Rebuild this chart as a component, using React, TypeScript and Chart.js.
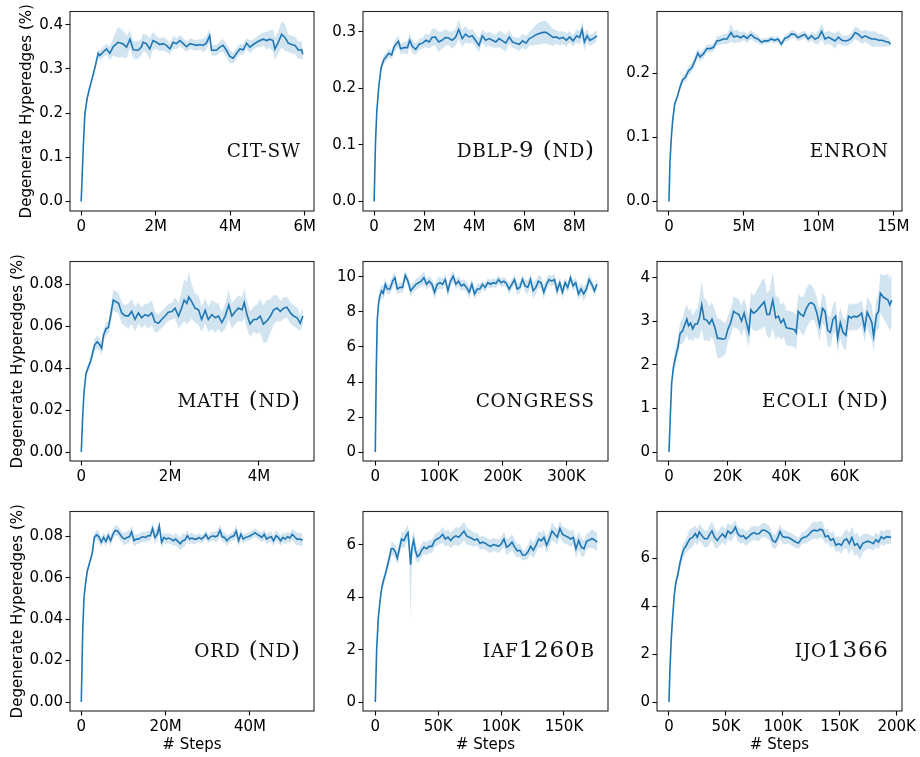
import React, { useEffect, useRef } from 'react';
import { Chart, registerables } from 'chart.js';

Chart.register(...registerables);
Chart.defaults.font.family = "'DejaVu Sans', sans-serif";

// ---------------- data ----------------
// CIT-SW (x in millions of steps)
const CITSW_X = [
  0, 0.054, 0.098, 0.16, 0.233, 0.30, 0.367, 0.456, 0.5, 0.59,
  0.68, 0.77, 0.86, 0.99, 1.13, 1.22, 1.31, 1.40, 1.53, 1.62,
  1.66, 1.75, 1.84, 1.93, 2.02, 2.11, 2.2, 2.29, 2.38, 2.47,
  2.56, 2.65, 2.74, 2.83, 2.92, 3.01, 3.1, 3.19, 3.27, 3.36,
  3.45, 3.5, 3.63, 3.72, 3.81, 3.90, 3.99, 4.08, 4.17, 4.26,
  4.35, 4.44, 4.53, 4.62, 4.71, 4.8, 4.89, 4.98, 5.06, 5.15,
  5.2, 5.29, 5.38, 5.47, 5.56, 5.65, 5.74, 5.83, 5.92, 5.95];
const CITSW_Y = [
  0, 0.118, 0.197, 0.233, 0.259, 0.28, 0.302, 0.335, 0.33, 0.338,
  0.345, 0.335, 0.35, 0.36, 0.356, 0.349, 0.367, 0.343, 0.342, 0.35,
  0.36, 0.357, 0.345, 0.364, 0.36, 0.355, 0.357, 0.353, 0.345, 0.36,
  0.357, 0.364, 0.357, 0.35, 0.357, 0.355, 0.353, 0.355, 0.353, 0.358,
  0.375, 0.342, 0.342, 0.349, 0.353, 0.342, 0.328, 0.324, 0.335, 0.345,
  0.343, 0.358, 0.349, 0.355, 0.36, 0.364, 0.367, 0.364, 0.367, 0.364,
  0.345, 0.36, 0.378, 0.371, 0.358, 0.355, 0.353, 0.342, 0.343, 0.333];
const CITSW_S = [
  0, 0.004, 0.006, 0.006, 0.006, 0.006, 0.006, 0.008, 0.01, 0.012,
  0.012, 0.015, 0.02, 0.035, 0.03, 0.025, 0.02, 0.02, 0.02, 0.018,
  0.02, 0.02, 0.025, 0.02, 0.015, 0.015, 0.015, 0.015, 0.012, 0.015,
  0.012, 0.012, 0.012, 0.012, 0.012, 0.012, 0.012, 0.012, 0.015, 0.015,
  0.015, 0.012, 0.012, 0.012, 0.015, 0.015, 0.015, 0.012, 0.012, 0.012,
  0.012, 0.012, 0.015, 0.012, 0.012, 0.015, 0.015, 0.02, 0.02, 0.025,
  0.025, 0.025, 0.03, 0.03, 0.02, 0.02, 0.02, 0.02, 0.02, 0.015];

// DBLP-9 (ND) (millions)
const DBLP_X = [
  0, 0.054, 0.107, 0.19, 0.28, 0.39, 0.48, 0.59, 0.70, 0.79,
  0.89, 0.97, 1.06, 1.19, 1.33, 1.42, 1.53, 1.66, 1.80, 1.93,
  2.07, 2.2, 2.31, 2.44, 2.58, 2.71, 2.85, 2.98, 3.11, 3.25,
  3.38, 3.52, 3.65, 3.79, 3.92, 4.05, 4.19, 4.32, 4.46, 4.59,
  4.73, 4.86, 4.99, 5.13, 5.26, 5.40, 5.53, 5.66, 5.8, 5.93,
  6.07, 6.2, 6.34, 6.47, 6.6, 6.74, 6.87, 7.0, 7.15, 7.28,
  7.41, 7.55, 7.68, 7.81, 7.95, 8.09, 8.21, 8.31, 8.4, 8.51,
  8.62, 8.75, 8.9];
const DBLP_Y = [
  0, 0.104, 0.16, 0.205, 0.237, 0.251, 0.256, 0.262, 0.259, 0.273,
  0.279, 0.283, 0.27, 0.272, 0.272, 0.285, 0.274, 0.269, 0.278, 0.28,
  0.285, 0.282, 0.29, 0.291, 0.282, 0.285, 0.29, 0.289, 0.285, 0.29,
  0.304, 0.288, 0.296, 0.291, 0.293, 0.285, 0.276, 0.293, 0.285, 0.288,
  0.285, 0.282, 0.288, 0.284, 0.28, 0.291, 0.282, 0.28, 0.278, 0.284,
  0.28, 0.288, 0.291, 0.295, 0.297, 0.299, 0.299, 0.295, 0.29, 0.291,
  0.288, 0.29, 0.285, 0.291, 0.284, 0.293, 0.29, 0.304, 0.282, 0.293,
  0.285, 0.288, 0.293];
const DBLP_S = [
  0, 0.004, 0.006, 0.006, 0.008, 0.008, 0.008, 0.008, 0.008, 0.01,
  0.01, 0.01, 0.01, 0.01, 0.012, 0.012, 0.012, 0.01, 0.01, 0.01,
  0.012, 0.012, 0.015, 0.015, 0.018, 0.015, 0.015, 0.012, 0.015, 0.015,
  0.018, 0.015, 0.015, 0.012, 0.012, 0.012, 0.012, 0.012, 0.012, 0.012,
  0.012, 0.012, 0.015, 0.015, 0.015, 0.012, 0.01, 0.01, 0.012, 0.012,
  0.012, 0.012, 0.015, 0.018, 0.02, 0.02, 0.02, 0.018, 0.015, 0.012,
  0.012, 0.012, 0.012, 0.01, 0.01, 0.012, 0.012, 0.015, 0.015, 0.012,
  0.01, 0.01, 0.01];

// ENRON (millions)
const ENRON_X = [
  0, 0.067, 0.157, 0.25, 0.38, 0.56, 0.74, 0.9, 1.1, 1.3,
  1.52, 1.75, 1.93, 2.08, 2.31, 2.53, 2.76, 2.98, 3.2, 3.43,
  3.65, 3.88, 4.15, 4.33, 4.55, 4.78, 5.0, 5.22, 5.49, 5.72,
  5.94, 6.17, 6.39, 6.61, 6.84, 7.06, 7.29, 7.51, 7.74, 7.96,
  8.18, 8.41, 8.63, 8.86, 9.08, 9.3, 9.53, 9.75, 9.98, 10.2,
  10.43, 10.65, 10.87, 11.1, 11.32, 11.55, 11.77, 11.99, 12.22, 12.44,
  12.67, 12.89, 13.12, 13.34, 13.56, 13.79, 14.01, 14.24, 14.46, 14.69,
  14.8];
const ENRON_Y = [
  0, 0.062, 0.10, 0.127, 0.152, 0.164, 0.179, 0.19, 0.194, 0.204,
  0.209, 0.221, 0.232, 0.226, 0.231, 0.239, 0.239, 0.241, 0.251, 0.252,
  0.254, 0.254, 0.264, 0.257, 0.259, 0.256, 0.259, 0.255, 0.261, 0.256,
  0.254, 0.249, 0.251, 0.251, 0.254, 0.252, 0.254, 0.246, 0.255, 0.257,
  0.262, 0.261, 0.256, 0.259, 0.261, 0.254, 0.259, 0.254, 0.256, 0.266,
  0.254, 0.257, 0.254, 0.251, 0.257, 0.252, 0.251, 0.252, 0.256, 0.264,
  0.261, 0.256, 0.259, 0.256, 0.254, 0.254, 0.252, 0.252, 0.25, 0.249,
  0.246];
const ENRON_S = [
  0, 0.003, 0.004, 0.004, 0.004, 0.004, 0.005, 0.006, 0.007, 0.007,
  0.007, 0.007, 0.008, 0.007, 0.007, 0.006, 0.006, 0.006, 0.007, 0.007,
  0.008, 0.008, 0.014, 0.01, 0.01, 0.008, 0.007, 0.007, 0.007, 0.007,
  0.006, 0.005, 0.005, 0.005, 0.005, 0.005, 0.005, 0.005, 0.005, 0.006,
  0.006, 0.006, 0.006, 0.006, 0.006, 0.006, 0.007, 0.008, 0.01, 0.012,
  0.01, 0.01, 0.01, 0.012, 0.01, 0.008, 0.008, 0.008, 0.008, 0.01,
  0.01, 0.01, 0.01, 0.01, 0.012, 0.012, 0.01, 0.01, 0.008, 0.006,
  0.005];

// MATH (ND) (millions)
const MATH_X = [
  0, 0.03, 0.06, 0.105, 0.158, 0.21, 0.256, 0.30, 0.36, 0.42,
  0.46, 0.5, 0.556, 0.61, 0.66, 0.72, 0.78, 0.84, 0.91, 0.985,
  1.06, 1.135, 1.21, 1.285, 1.36, 1.436, 1.51, 1.586, 1.66, 1.737,
  1.81, 1.887, 1.96, 2.04, 2.11, 2.19, 2.26, 2.316, 2.376, 2.42,
  2.49, 2.56, 2.64, 2.71, 2.79, 2.86, 2.94, 3.02, 3.09, 3.165,
  3.24, 3.32, 3.39, 3.47, 3.54, 3.62, 3.67, 3.73, 3.8, 3.88,
  3.95, 4.03, 4.1, 4.18, 4.26, 4.33, 4.41, 4.48, 4.56, 4.63,
  4.71, 4.78, 4.86, 4.93, 4.99];
const MATH_Y = [
  0, 0.016, 0.028, 0.0373, 0.0404, 0.0434, 0.0472, 0.051, 0.0526, 0.051,
  0.0495, 0.0556, 0.0587, 0.0594, 0.0648, 0.0724, 0.0716, 0.0709, 0.0663, 0.065,
  0.0648, 0.067, 0.0632, 0.0663, 0.064, 0.0655, 0.0648, 0.0663, 0.062, 0.0614,
  0.0632, 0.0648, 0.0666, 0.067, 0.0686, 0.0648, 0.0686, 0.0724, 0.0709, 0.0739,
  0.0716, 0.0686, 0.0678, 0.0632, 0.0675, 0.0632, 0.0655, 0.064, 0.0648, 0.0617,
  0.0648, 0.0701, 0.0648, 0.067, 0.0686, 0.0678, 0.0712, 0.0655, 0.061, 0.0632,
  0.0632, 0.0648, 0.061, 0.0625, 0.0648, 0.0678, 0.0686, 0.067, 0.0686, 0.069,
  0.0663, 0.0648, 0.064, 0.0614, 0.0648];
const MATH_S = [
  0, 0.001, 0.002, 0.002, 0.002, 0.002, 0.003, 0.003, 0.003, 0.003,
  0.003, 0.003, 0.003, 0.003, 0.004, 0.005, 0.005, 0.005, 0.005, 0.005,
  0.006, 0.006, 0.006, 0.005, 0.005, 0.005, 0.006, 0.006, 0.005, 0.004,
  0.004, 0.004, 0.004, 0.004, 0.005, 0.006, 0.008, 0.01, 0.01, 0.012,
  0.008, 0.007, 0.007, 0.006, 0.006, 0.006, 0.007, 0.007, 0.006, 0.005,
  0.006, 0.007, 0.006, 0.006, 0.006, 0.006, 0.007, 0.007, 0.006, 0.006,
  0.007, 0.008, 0.009, 0.01, 0.008, 0.007, 0.006, 0.005, 0.005, 0.005,
  0.005, 0.005, 0.005, 0.004, 0.004];

// CONGRESS (thousands)
const CONG_X = [
  0, 1.6, 3.1, 5.2, 7.3, 9.9, 12.5, 15.7, 18.8, 23,
  27.2, 30.8, 34.5, 38.7, 42.9, 47, 51.2, 55.4, 59.6, 63.8,
  68, 72.1, 76.3, 80.5, 84.7, 88.9, 93, 97.2, 101.4, 105.6,
  109.8, 114, 118.1, 122.3, 126.5, 130.7, 134.9, 139, 143.2, 147.4,
  151.6, 155.8, 160, 164.1, 168.3, 172.5, 176.7, 180.9, 185, 189.2,
  193.4, 197.6, 201.8, 206, 210.1, 214.3, 218.5, 222.7, 226.9, 231,
  235.2, 239.4, 243.6, 247.8, 252, 256.1, 260.3, 264.5, 268.7, 272.9,
  277, 281.2, 285.4, 289.6, 293.8, 298, 302.1, 306.3, 310.5, 314.7,
  318.9, 323, 327.2, 331.4, 335.6, 339.8, 344, 348];
const CONG_Y = [
  0, 4.84, 7.57, 8.49, 8.94, 9.21, 9.07, 9.58, 9.31, 9.31,
  9.76, 9.95, 9.31, 9.4, 9.4, 10.09, 9.76, 9.21, 9.4, 9.58,
  9.67, 9.76, 9.95, 9.58, 9.76, 9.58, 9.12, 9.58, 9.67, 9.58,
  9.85, 9.21, 9.76, 10.04, 9.58, 9.76, 9.49, 9.58, 9.4, 9.12,
  9.58, 9.03, 9.31, 9.31, 9.58, 9.4, 9.67, 9.58, 9.67, 9.62,
  9.85, 9.67, 9.76, 9.62, 9.31, 9.58, 9.85, 9.31, 9.4, 9.85,
  9.49, 9.4, 9.85, 9.21, 9.4, 9.76, 9.67, 9.12, 9.58, 9.85,
  9.76, 9.85, 9.21, 9.67, 9.12, 9.67, 9.4, 9.95, 9.49, 9.67,
  9.03, 9.31, 9.03, 9.31, 9.85, 9.58, 9.21, 9.58];
const CONG_S = [
  0, 0.2, 0.25, 0.3, 0.35, 0.35, 0.4, 0.35, 0.3, 0.3,
  0.35, 0.35, 0.3, 0.3, 0.3, 0.3, 0.3, 0.35, 0.3, 0.3,
  0.3, 0.35, 0.4, 0.3, 0.3, 0.3, 0.4, 0.35, 0.35, 0.3,
  0.3, 0.35, 0.3, 0.35, 0.3, 0.3, 0.3, 0.3, 0.3, 0.35,
  0.3, 0.3, 0.3, 0.3, 0.25, 0.25, 0.25, 0.25, 0.25, 0.25,
  0.25, 0.25, 0.25, 0.25, 0.3, 0.3, 0.3, 0.35, 0.3, 0.3,
  0.35, 0.4, 0.35, 0.45, 0.4, 0.35, 0.35, 0.4, 0.35, 0.3,
  0.3, 0.3, 0.35, 0.3, 0.35, 0.3, 0.3, 0.3, 0.3, 0.3,
  0.35, 0.35, 0.4, 0.35, 0.35, 0.3, 0.3, 0.3];

// ECOLI (ND) (thousands)
const ECOLI_X = [
  0, 0.46, 0.91, 1.5, 2.2, 3.0, 3.8, 4.7, 5.5, 6.1,
  6.7, 7.4, 8.1, 8.9, 9.7, 10.4, 11.2, 12.0, 12.9, 13.8,
  14.7, 15.7, 16.6, 17.5, 18.4, 19.3, 20.2, 21.1, 22.1, 23.0,
  23.9, 24.8, 25.7, 26.6, 27.3, 28, 28.9, 29.8, 30.7, 31.7,
  32.6, 33.5, 34.4, 35.5, 36.5, 37.4, 38.3, 39.2, 40.1, 41,
  41.9, 42.9, 43.5, 44.2, 45.1, 46, 47, 47.9, 48.8, 49.7,
  50.6, 51.5, 52.5, 53.4, 54.3, 55.2, 56.1, 57, 57.7, 58.6,
  59.5, 60.5, 61.4, 62.3, 63.2, 64.1, 65, 65.9, 66.9, 67.8,
  68.7, 69.4, 70, 71, 71.7, 72.3, 73.3, 74.2, 74.9, 75.5,
  76.2];
const ECOLI_Y = [
  0, 0.84, 1.58, 1.94, 2.17, 2.39, 2.72, 2.79, 2.94, 3.05,
  2.9, 2.96, 2.83, 2.94, 2.94, 3.08, 3.38, 3.05, 3.03, 2.94,
  3.05, 2.86, 2.61, 2.61, 2.59, 2.61, 2.83, 2.97, 3.23, 3.19,
  3.16, 3.01, 3.19, 2.94, 2.75, 3.27, 3.19, 3.23, 3.3, 3.38,
  3.45, 3.16, 3.16, 3.49, 3.08, 3.12, 2.97, 3.05, 2.86, 2.84,
  2.83, 2.81, 2.74, 3.23, 3.16, 3.12, 3.3, 3.41, 3.43, 3.38,
  3.19, 2.9, 3.3, 3.23, 2.79, 2.75, 3.05, 3.12, 2.61, 2.97,
  2.75, 2.68, 3.12, 3.08, 3.12, 3.1, 3.13, 3.19, 2.83, 3.21,
  3.08, 2.97, 2.66, 3.16, 3.23, 3.65, 3.56, 3.52, 3.49, 3.38,
  3.49];
const ECOLI_S = [
  0, 0.05, 0.1, 0.15, 0.2, 0.2, 0.25, 0.3, 0.35, 0.35,
  0.35, 0.35, 0.3, 0.3, 0.35, 0.45, 0.55, 0.5, 0.45, 0.4,
  0.4, 0.4, 0.45, 0.45, 0.4, 0.35, 0.3, 0.3, 0.35, 0.35,
  0.35, 0.35, 0.35, 0.35, 0.35, 0.4, 0.4, 0.45, 0.5, 0.55,
  0.55, 0.5, 0.55, 0.65, 0.5, 0.45, 0.4, 0.4, 0.4, 0.4,
  0.4, 0.4, 0.4, 0.4, 0.4, 0.45, 0.45, 0.45, 0.4, 0.35,
  0.35, 0.35, 0.35, 0.35, 0.35, 0.35, 0.35, 0.35, 0.35, 0.35,
  0.35, 0.35, 0.3, 0.3, 0.3, 0.3, 0.3, 0.3, 0.3, 0.35,
  0.4, 0.4, 0.35, 0.35, 0.4, 0.45, 0.5, 0.55, 0.6, 0.6,
  0.6];

// ORD (ND) (millions)
const ORD_X = [
  0, 0.32, 0.63, 0.95, 1.42, 2.06, 2.6, 3.08, 3.64, 4.19,
  4.74, 5.3, 5.85, 6.4, 6.96, 7.5, 8.06, 8.62, 9.17, 9.72,
  10.28, 10.83, 11.38, 11.94, 12.49, 13.04, 13.6, 14.15, 14.7, 15.26,
  15.81, 16.36, 16.92, 17.47, 18.02, 18.5, 19.05, 19.6, 20.16, 20.71,
  21.26, 21.82, 22.37, 22.92, 23.48, 24.03, 24.58, 25.14, 25.69, 26.24,
  26.8, 27.35, 27.9, 28.46, 29.01, 29.56, 30.12, 30.67, 31.22, 31.78,
  32.33, 32.89, 33.44, 33.99, 34.55, 35.1, 35.65, 36.21, 36.76, 37.31,
  37.87, 38.42, 38.97, 39.53, 40.08, 40.63, 41.19, 41.74, 42.29, 42.85,
  43.4, 43.95, 44.51, 45.06, 45.61, 46.17, 46.72, 47.27, 47.83, 48.38,
  48.93, 49.49, 50.04, 50.59, 51.15, 51.7, 52.5];
const ORD_Y = [
  0, 0.0331, 0.0501, 0.0563, 0.0632, 0.0678, 0.0717, 0.0794, 0.0806, 0.0797,
  0.0771, 0.0794, 0.0775, 0.0802, 0.0778, 0.0809, 0.0828, 0.0825, 0.0809, 0.0794,
  0.0786, 0.0794, 0.0797, 0.0821, 0.0778, 0.0786, 0.0786, 0.0794, 0.0797, 0.0794,
  0.0802, 0.0802, 0.0837, 0.0794, 0.0809, 0.0848, 0.0771, 0.0794, 0.0786, 0.0791,
  0.0786, 0.0778, 0.0786, 0.0775, 0.0763, 0.0778, 0.0781, 0.0802, 0.0786, 0.0791,
  0.0786, 0.0786, 0.0794, 0.0786, 0.0794, 0.0809, 0.0786, 0.0797, 0.0802, 0.0797,
  0.0802, 0.0828, 0.0797, 0.0794, 0.0778, 0.0791, 0.0797, 0.0802, 0.0825, 0.0778,
  0.0809, 0.0786, 0.0794, 0.0797, 0.0802, 0.0809, 0.0817, 0.0809, 0.0802, 0.0794,
  0.0809, 0.0786, 0.0794, 0.0797, 0.0778, 0.0802, 0.0794, 0.0778, 0.0794, 0.0786,
  0.0797, 0.0791, 0.0809, 0.0797, 0.0786, 0.0786, 0.0781];
const ORD_S = [
  0, 0.001, 0.001, 0.0015, 0.0015, 0.0015, 0.002, 0.002, 0.0025, 0.0025,
  0.0025, 0.0025, 0.0025, 0.0025, 0.0025, 0.0025, 0.0025, 0.0025, 0.0025, 0.0025,
  0.003, 0.003, 0.003, 0.003, 0.003, 0.0025, 0.0025, 0.0025, 0.0025, 0.0025,
  0.0025, 0.0025, 0.003, 0.003, 0.003, 0.003, 0.003, 0.0025, 0.0025, 0.0025,
  0.0025, 0.0025, 0.003, 0.003, 0.003, 0.0035, 0.003, 0.0025, 0.0025, 0.0025,
  0.0025, 0.002, 0.002, 0.002, 0.002, 0.002, 0.002, 0.002, 0.002, 0.0025,
  0.0025, 0.003, 0.0025, 0.0025, 0.0025, 0.002, 0.002, 0.0025, 0.003, 0.0025,
  0.0025, 0.002, 0.002, 0.002, 0.002, 0.002, 0.002, 0.002, 0.002, 0.0025,
  0.0025, 0.0025, 0.0025, 0.0025, 0.0025, 0.0025, 0.0025, 0.0025, 0.0025, 0.0025,
  0.0025, 0.0025, 0.0025, 0.003, 0.003, 0.003, 0.003];

// IAF1260B (thousands)
const IAF_X = [
  0, 1.06, 2.4, 3.7, 5.0, 6.4, 8.0, 9.5, 11.1, 12.7,
  14.3, 15.9, 17.5, 19.1, 20.9, 22.8, 24.4, 26, 27, 28.1,
  29.2, 30.5, 31.8, 33.4, 35, 36.8, 38.7, 40.8, 42.9, 45,
  47.2, 49.3, 51.4, 53.5, 55.7, 57.8, 59.9, 62, 64.1, 66.3,
  68.4, 70.5, 72.6, 74.7, 76.9, 79, 81.1, 83.2, 85.3, 87.5,
  89.6, 91.7, 93.8, 95.9, 98.1, 100.2, 102.3, 104.4, 106.5, 108.7,
  110.8, 112.9, 115, 117.1, 119.3, 121.4, 123.5, 125.6, 127.7, 129.9,
  132, 134.1, 136.2, 138.3, 140.5, 142.6, 144.7, 146.8, 148.9, 151.1,
  153.2, 155.3, 157.4, 159.5, 161.7, 163.8, 165.9, 168, 170.2, 172.3,
  174.4, 176.5];
const IAF_Y = [
  0, 2.01, 3.23, 3.84, 4.33, 4.63, 4.88, 5.18, 5.49, 5.85,
  5.85, 5.73, 5.49, 5.85, 6.22, 6.16, 6.34, 6.46, 5.91, 5.24,
  5.91, 6.18, 5.79, 5.55, 5.61, 5.79, 5.91, 5.85, 5.94, 5.94,
  6.16, 6.22, 6.28, 6.4, 6.22, 6.29, 6.16, 6.28, 6.34, 6.29,
  6.4, 6.52, 6.34, 6.29, 6.24, 6.18, 6.22, 6.06, 6.1, 6.06,
  5.98, 5.94, 6.01, 5.98, 5.94, 6.04, 6.22, 5.91, 5.98, 6.1,
  5.91, 5.77, 5.79, 5.61, 5.61, 5.73, 5.94, 5.79, 5.98, 6.22,
  6.16, 6.28, 5.98, 6.22, 6.52, 6.4, 6.29, 6.62, 6.4, 6.34,
  6.29, 6.22, 6.28, 5.85, 6.16, 5.91, 5.85, 6.13, 6.18, 6.24,
  6.18, 6.1];
const IAF_S = [
  0, 0.05, 0.1, 0.15, 0.15, 0.2, 0.2, 0.2, 0.25, 0.25,
  0.25, 0.25, 0.25, 0.25, 0.3, 0.3, 0.3, 0.3, 0.4, 0.4,
  0.4, 0.35, 0.3, 0.25, 0.25, 0.25, 0.25, 0.25, 0.25, 0.25,
  0.25, 0.25, 0.25, 0.3, 0.3, 0.3, 0.3, 0.3, 0.35, 0.35,
  0.35, 0.35, 0.35, 0.3, 0.3, 0.25, 0.25, 0.25, 0.25, 0.25,
  0.25, 0.25, 0.25, 0.25, 0.25, 0.25, 0.3, 0.3, 0.3, 0.3,
  0.3, 0.25, 0.25, 0.2, 0.2, 0.25, 0.3, 0.3, 0.3, 0.3,
  0.3, 0.3, 0.3, 0.3, 0.35, 0.3, 0.3, 0.3, 0.3, 0.3,
  0.3, 0.3, 0.3, 0.35, 0.35, 0.35, 0.3, 0.3, 0.3, 0.35,
  0.35, 0.35];
const IAF_S_LOW = [
  0, 0.05, 0.1, 0.15, 0.15, 0.2, 0.2, 0.2, 0.25, 0.25,
  0.25, 0.25, 0.25, 0.25, 0.3, 0.3, 0.3, 0.3, 0.4, 2.1,
  0.4, 0.35, 0.3, 0.25, 0.25, 0.25, 0.25, 0.25, 0.25, 0.25,
  0.25, 0.25, 0.25, 0.3, 0.3, 0.3, 0.3, 0.3, 0.35, 0.35,
  0.35, 0.35, 0.35, 0.3, 0.3, 0.25, 0.25, 0.25, 0.25, 0.25,
  0.25, 0.25, 0.25, 0.25, 0.25, 0.25, 0.3, 0.3, 0.3, 0.3,
  0.3, 0.25, 0.25, 0.2, 0.2, 0.25, 0.3, 0.3, 0.3, 0.3,
  0.3, 0.3, 0.3, 0.3, 0.35, 0.3, 0.3, 0.3, 0.3, 0.3,
  0.3, 0.3, 0.3, 0.35, 0.35, 0.35, 0.3, 0.3, 0.3, 0.35,
  0.35, 0.35];

// IJO1366 (thousands)
const IJO_X = [
  0, 0.9, 2.0, 3.2, 4.7, 6.1, 7.9, 9.7, 11.4, 13.2,
  14.9, 16.7, 18.4, 20.8, 23.1, 24.9, 26.6, 29, 31.3, 33.7,
  36, 37.8, 40.1, 42.5, 44.8, 47.1, 49.5, 51.8, 54.2, 56.5,
  58.3, 60.6, 63, 65.3, 67.6, 70, 72.3, 74.7, 77, 79.3,
  81.7, 84, 86.4, 88.7, 91, 93.4, 95.7, 97.5, 99.8, 102.2,
  104.5, 106.9, 109.2, 111.6, 113.9, 116.3, 118.6, 120.9, 123.3, 125.6,
  128, 130.3, 132.6, 135, 137.3, 139.7, 142, 144.3, 146.7, 149,
  151.4, 153.7, 156, 158.4, 160.7, 163.1, 165.4, 167.8, 170.1, 172.4,
  174.8, 177.1, 179.5, 181.8, 184.1, 186.5, 188.8, 191.2, 195];
const IJO_Y = [
  0, 1.4, 2.61, 3.54, 4.48, 5.01, 5.35, 5.81, 6.15, 6.41,
  6.51, 6.68, 6.82, 6.88, 7.04, 6.88, 7.11, 6.95, 6.82, 6.82,
  7.02, 7.15, 6.88, 6.75, 6.91, 7.02, 6.88, 7.15, 7.04, 7.15,
  7.31, 7.02, 6.91, 6.95, 6.82, 6.91, 7.02, 7.08, 7.02, 7.04,
  7.18, 7.18, 7.12, 7.02, 6.75, 6.68, 6.88, 7.12, 6.91, 6.88,
  6.88, 6.82, 6.75, 6.68, 6.64, 6.82, 6.88, 6.91, 7.02, 7.15,
  7.18, 7.15, 7.22, 7.18, 6.91, 6.95, 6.75, 6.82, 6.55, 6.62,
  6.55, 6.75, 6.82, 6.62, 6.88, 6.55, 6.62, 6.41, 6.62, 6.68,
  6.72, 6.68, 6.62, 6.78, 6.68, 6.91, 6.82, 6.91, 6.88];
const IJO_S = [
  0, 0.05, 0.1, 0.15, 0.2, 0.2, 0.25, 0.25, 0.25, 0.3,
  0.3, 0.35, 0.4, 0.4, 0.35, 0.35, 0.35, 0.35, 0.35, 0.35,
  0.4, 0.4, 0.4, 0.35, 0.35, 0.35, 0.35, 0.35, 0.35, 0.3,
  0.3, 0.3, 0.3, 0.3, 0.3, 0.3, 0.3, 0.3, 0.3, 0.3,
  0.3, 0.3, 0.3, 0.3, 0.3, 0.3, 0.3, 0.3, 0.3, 0.3,
  0.25, 0.25, 0.25, 0.25, 0.25, 0.25, 0.25, 0.3, 0.3, 0.35,
  0.35, 0.35, 0.35, 0.35, 0.3, 0.3, 0.3, 0.3, 0.3, 0.3,
  0.35, 0.35, 0.4, 0.45, 0.45, 0.45, 0.45, 0.45, 0.4, 0.35,
  0.3, 0.3, 0.3, 0.3, 0.3, 0.3, 0.3, 0.3, 0.3];

// tick values
const CITSW_XTICKS = [0, 2, 4, 6];
const DBLP_XTICKS = [0, 2, 4, 6, 8];
const ENRON_XTICKS = [0, 5, 10, 15];
const MATH_XTICKS = [0, 2, 4];
const CONG_XTICKS = [0, 100, 200, 300];
const ECOLI_XTICKS = [0, 20, 40, 60];
const ORD_XTICKS = [0, 20, 40];
const IAF_XTICKS = [0, 50, 100, 150];
const IJO_XTICKS = [0, 50, 100, 150, 200];

const CITSW_YTICKS = [0, 0.1, 0.2, 0.3, 0.4];
const DBLP_YTICKS = [0, 0.1, 0.2, 0.3];
const ENRON_YTICKS = [0, 0.1, 0.2];
const MATH_YTICKS = [0, 0.02, 0.04, 0.06, 0.08];
const CONG_YTICKS = [0, 2, 4, 6, 8, 10];
const ECOLI_YTICKS = [0, 1, 2, 3, 4];
const ORD_YTICKS = [0, 0.02, 0.04, 0.06, 0.08];
const IAF_YTICKS = [0, 2, 4, 6];
const IJO_YTICKS = [0, 2, 4, 6];

const Y_TITLE = 'Degenerate Hyperedges (%)';
const X_TITLE = '# Steps';

// ---------------- layout / style ----------------
const COL_LEFT = [70, 363, 657];
const COL_RIGHT = [314, 608, 902];
const ROW_TOP = [3, 253, 503];
const ROW_BOTTOM = [211, 461, 711];
const G_LEFT = 70;
const G_RIGHT = 18;
const G_TOP = 3;
const G_BOTTOM = 46;

const BLUE = '#1f77b4';
const BAND = 'rgba(31,119,180,0.2)';
const TICK_FONT = { family: "'DejaVu Sans', sans-serif", size: 15 };
const LABEL_FULL = "23px 'DejaVu Serif', serif";
const LABEL_SMALL = "18.5px 'DejaVu Serif', serif";
const LABEL_SPACING = 0.8;

type Panel = {
  label: string; row: number; col: number;
  x: number[]; y: number[]; s: number[]; sLow?: number[];
  unit: string; xTicks: number[]; yTicks: number[]; yDec: number;
  xr: [number, number]; yr: [number, number];
};

const PANELS: Panel[] = [
  { label: 'CIT-SW', row: 0, col: 0, x: CITSW_X, y: CITSW_Y, s: CITSW_S, unit: 'M', xTicks: CITSW_XTICKS, yTicks: CITSW_YTICKS, yDec: 1, xr: [-0.3, 6.25], yr: [-0.0217, 0.4297] },
  { label: 'DBLP-9 (ND)', row: 0, col: 1, x: DBLP_X, y: DBLP_Y, s: DBLP_S, unit: 'M', xTicks: DBLP_XTICKS, yTicks: DBLP_YTICKS, yDec: 1, xr: [-0.445, 9.345], yr: [-0.017, 0.336] },
  { label: 'ENRON', row: 0, col: 2, x: ENRON_X, y: ENRON_Y, s: ENRON_S, unit: 'M', xTicks: ENRON_XTICKS, yTicks: ENRON_YTICKS, yDec: 1, xr: [-0.8, 15.57], yr: [-0.015, 0.297] },
  { label: 'MATH (ND)', row: 1, col: 0, x: MATH_X, y: MATH_Y, s: MATH_S, unit: 'M', xTicks: MATH_XTICKS, yTicks: MATH_YTICKS, yDec: 2, xr: [-0.254, 5.24], yr: [-0.00425, 0.0908] },
  { label: 'CONGRESS', row: 1, col: 1, x: CONG_X, y: CONG_Y, s: CONG_S, unit: 'K', xTicks: CONG_XTICKS, yTicks: CONG_YTICKS, yDec: 0, xr: [-19.3, 365.3], yr: [-0.51, 10.88] },
  { label: 'ECOLI (ND)', row: 1, col: 2, x: ECOLI_X, y: ECOLI_Y, s: ECOLI_S, unit: 'K', xTicks: ECOLI_XTICKS, yTicks: ECOLI_YTICKS, yDec: 0, xr: [-4.1, 79.7], yr: [-0.205, 4.376] },
  { label: 'ORD (ND)', row: 2, col: 0, x: ORD_X, y: ORD_Y, s: ORD_S, unit: 'M', xTicks: ORD_XTICKS, yTicks: ORD_YTICKS, yDec: 2, xr: [-2.68, 55.2], yr: [-0.0043, 0.0919] },
  { label: 'IAF1260B', row: 2, col: 1, x: IAF_X, y: IAF_Y, s: IAF_S, sLow: IAF_S_LOW, unit: 'K', xTicks: IAF_XTICKS, yTicks: IAF_YTICKS, yDec: 0, xr: [-9.8, 185.0], yr: [-0.34, 7.27] },
  { label: 'IJO1366', row: 2, col: 2, x: IJO_X, y: IJO_Y, s: IJO_S, unit: 'K', xTicks: IJO_XTICKS, yTicks: IJO_YTICKS, yDec: 0, xr: [-10.5, 204.7], yr: [-0.37, 7.96] },
];

// split a label into runs: letters/hyphens are rendered as small capitals,
// digits, spaces and parentheses at full size
function labelRuns(label: string): { text: string; small: boolean }[] {
  const runs: { text: string; small: boolean }[] = [];
  for (const ch of label) {
    const small = /[A-Za-z\-]/.test(ch);
    const last = runs[runs.length - 1];
    if (last && last.small === small) last.text += ch;
    else runs.push({ text: ch, small });
  }
  return runs;
}

function makeFramePlugin(label: string) {
  return {
    id: 'frameAndLabel',
    afterDatasetsDraw(chart: any) {
      const { ctx, chartArea: a } = chart;
      ctx.save();
      ctx.strokeStyle = '#262626';
      ctx.lineWidth = 1.1;
      ctx.strokeRect(a.left, a.top, a.right - a.left, a.bottom - a.top);

      const runs = labelRuns(label);
      const anyCtx = ctx as any;
      const widths = runs.map((r) => {
        ctx.font = r.small ? LABEL_SMALL : LABEL_FULL;
        if ('letterSpacing' in anyCtx) anyCtx.letterSpacing = '0px';
        return ctx.measureText(r.text).width + LABEL_SPACING * r.text.length;
      });
      const total = widths.reduce((s, w) => s + w, 0) - LABEL_SPACING;
      let x = a.right - 14 - total;
      const y = a.bottom - 54;
      ctx.fillStyle = '#111';
      ctx.textAlign = 'left';
      ctx.textBaseline = 'alphabetic';
      runs.forEach((r, i) => {
        ctx.font = r.small ? LABEL_SMALL : LABEL_FULL;
        if ('letterSpacing' in anyCtx) anyCtx.letterSpacing = `${LABEL_SPACING}px`;
        ctx.fillText(r.text, x, y);
        x += widths[i];
      });
      ctx.restore();
    },
  };
}

function PanelChart({ p }: { p: Panel }) {
  const ref = useRef<HTMLCanvasElement>(null);
  const left = COL_LEFT[p.col] - G_LEFT;
  const top = ROW_TOP[p.row] - G_TOP;
  const w = COL_RIGHT[p.col] - COL_LEFT[p.col] + G_LEFT + G_RIGHT;
  const h = ROW_BOTTOM[p.row] - ROW_TOP[p.row] + G_TOP + G_BOTTOM;

  useEffect(() => {
    if (!ref.current) return;
    const n = Math.min(p.x.length, p.y.length, p.s.length);
    const low = p.sLow || p.s;
    const mean: { x: number; y: number }[] = [];
    const lo: { x: number; y: number }[] = [];
    const hi: { x: number; y: number }[] = [];
    for (let i = 0; i < n; i++) {
      mean.push({ x: p.x[i], y: p.y[i] });
      lo.push({ x: p.x[i], y: p.y[i] - low[i] });
      hi.push({ x: p.x[i], y: p.y[i] + p.s[i] });
    }
    const gridOpts = {
      display: true, drawOnChartArea: false, drawTicks: true,
      tickLength: 4.5, tickColor: '#000', tickWidth: 1.1, color: '#000',
    };
    const chart = new Chart(ref.current, {
      type: 'line',
      data: {
        datasets: [
          { data: lo, borderWidth: 0, borderColor: 'transparent', pointRadius: 0, fill: false },
          { data: hi, borderWidth: 0, borderColor: 'transparent', pointRadius: 0, fill: '-1', backgroundColor: BAND },
          { data: mean, borderColor: BLUE, borderWidth: 1.6, pointRadius: 0, fill: false, tension: 0 },
        ],
      },
      options: {
        animation: false,
        responsive: false,
        maintainAspectRatio: false,
        devicePixelRatio: 1,
        events: [],
        layout: { padding: { left: 0, right: G_RIGHT, top: G_TOP, bottom: 0 } },
        plugins: { legend: { display: false }, tooltip: { enabled: false } },
        scales: {
          x: {
            type: 'linear',
            min: p.xr[0], max: p.xr[1],
            afterFit: (s: any) => { s.height = G_BOTTOM; },
            afterBuildTicks: (s: any) => { s.ticks = p.xTicks.map((v) => ({ value: v })); },
            ticks: {
              autoSkip: false, maxRotation: 0, minRotation: 0, padding: 2.5,
              color: '#000', font: TICK_FONT,
              callback: (v: any) => (Number(v) === 0 ? '0' : `${v}${p.unit}`),
            },
            grid: gridOpts,
            border: { display: false },
            title: {
              display: p.row === 2, text: X_TITLE, color: '#000', font: TICK_FONT,
              padding: { top: 0, bottom: 3 },
            },
          },
          y: {
            type: 'linear',
            min: p.yr[0], max: p.yr[1],
            afterFit: (s: any) => { s.width = G_LEFT; },
            afterBuildTicks: (s: any) => { s.ticks = p.yTicks.map((v) => ({ value: v })); },
            ticks: {
              autoSkip: false, padding: 2.5, color: '#000', font: TICK_FONT,
              callback: (v: any) => Number(v).toFixed(p.yDec),
            },
            grid: gridOpts,
            border: { display: false },
            title: {
              display: p.col === 0, text: Y_TITLE, color: '#000', font: TICK_FONT,
              padding: { top: p.row === 0 ? 18 : 9, bottom: 0 },
            },
          },
        },
      },
      plugins: [makeFramePlugin(p.label)],
    } as any);
    return () => chart.destroy();
  }, [p]);

  return (
    <canvas
      ref={ref}
      width={w}
      height={h}
      style={{ position: 'absolute', left, top, width: w, height: h }}
    />
  );
}

export default function App() {
  return (
    <div style={{ position: 'absolute', left: 0, top: 0, width: 920, height: 757, background: '#fff', overflow: 'hidden' }}>
      {PANELS.map((p) => <PanelChart key={p.label} p={p} />)}
    </div>
  );
}
